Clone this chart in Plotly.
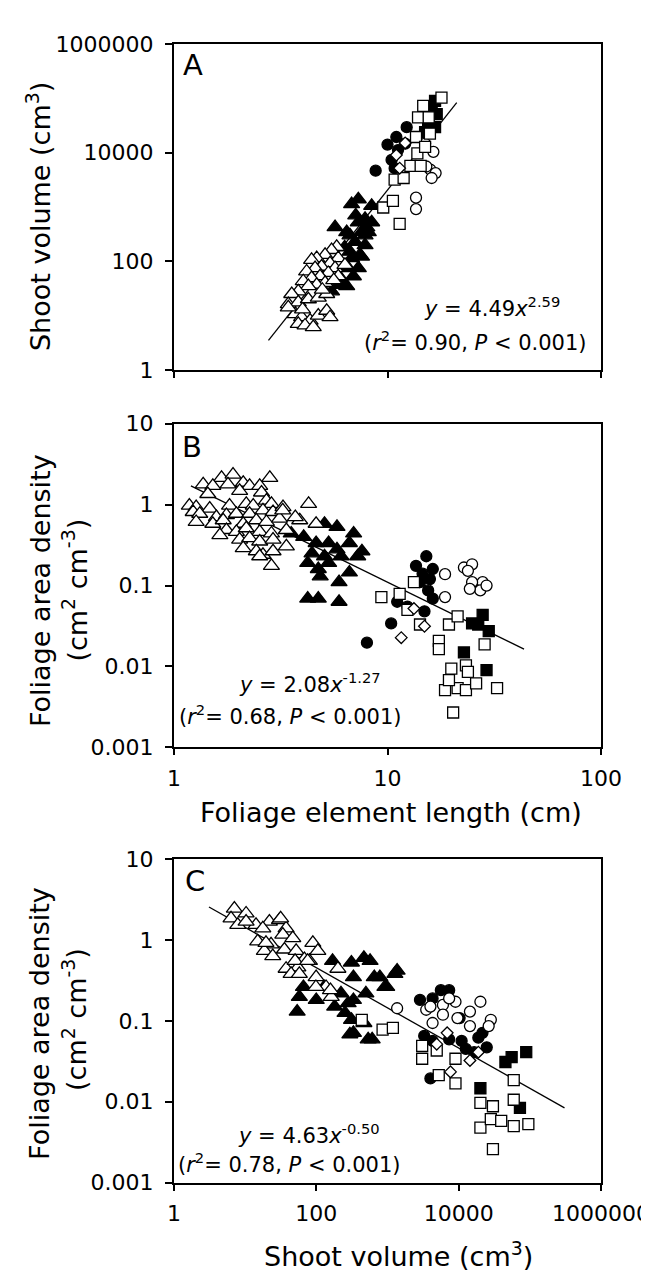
import plotly.graph_objects as go

# ---------------- Panel A: shoot volume vs foliage element length ----------------
a_open_tri_x = [5.78,5.47,5.10,4.66,4.41,5.88,5.38,4.91,4.58,4.18,5.68,5.28,4.83,4.41,4.03,6.32,5.88,5.10,4.66,4.26,3.82,3.56,3.43,3.82,4.26,4.74,5.19,3.69,3.96,4.34,4.74,5.19,5.38,3.82,4.11,4.49,3.43,4.95,5.60,4.00]
a_open_tri_y = [184,161,131,114,106,114,92,80,75,65,75,61,53,49,43,86,53,40,37,35,28,25,16.3,17.5,20,21.5,25,10.7,9.35,8.12,10.0,12.3,9.35,7.08,6.6,6.17,14.2,30,45,13]
a_fill_tri_x = [7.30,6.79,8.43,5.68,6.44,7.30,7.85,7.04,6.67,7.43,7.30,8.13,7.85,8.43,6.67,7.56,7.85,6.79,7.56,6.55,6.10,6.92,5.88,6.44,5.47,7.10,8.00,6.30]
a_fill_tri_y = [1384,1124,1047,424,344,522,300,227,150,131,75,344,601,522,300,344,198,114,122,75,46,53,37,35,28,700,420,180]
a_fill_cir_x = [8.80,10.0,11.0,12.3,10.45,11.2,10.8,12.1]
a_fill_cir_y = [4630,14000,19300,29300,7310,11100,5160,14600]
a_open_dia_x = [12.1,11.0,11.4]
a_open_dia_y = [15000,9000,5160]
a_open_sq_x = [10.8,11.9,12.8,14.3,13.8,13.6,13.9,15.6,14.7,17.9,15.8,9.55,10.6,11.4,15.0]
a_open_sq_y = [3180,3400,5700,5700,9640,19300,44400,44400,72300,102000,22200,975,1290,489,12700]
a_fill_sq_x = [16.7,16.1,15.5,15.0,16.7,17.0]
a_fill_sq_y = [89000,62800,36000,23800,29300,51000]
a_open_cir_x = [16.4,15.0,15.9,16.8,16.1,13.6,13.6,15.2]
a_open_cir_y = [10300,14600,4830,4190,3400,1480,912,5540]
a_fit_x = [2.77,21.1]
a_fit_y = [3.5,83000]

# ---------------- Panel B: foliage area density vs foliage element length ----------------
b_open_tri_x = [1.67,1.89,2.81,1.37,1.52,1.79,2.11,2.26,2.52,1.44,2.03,2.57,1.18,1.27,1.47,1.82,2.18,2.35,2.71,2.86,1.23,1.32,1.58,1.76,1.96,2.26,2.61,2.91,3.24,1.27,1.52,1.70,2.11,2.43,2.71,3.12,3.88,1.76,1.96,2.18,2.52,2.86,3.36,1.64,2.03,2.26,2.52,2.91,3.36,2.11,2.43,2.61,2.91,2.86,2.52,4.27,3.23,4.63,3.70]
b_open_tri_y = [2.14,2.35,2.14,1.78,1.70,1.78,1.86,1.70,1.70,1.35,1.48,1.41,0.97,0.93,0.89,0.97,1.02,0.97,1.12,1.02,0.81,0.77,0.70,0.74,0.77,0.77,0.85,0.81,0.93,0.61,0.58,0.64,0.58,0.64,0.61,0.67,0.64,0.485,0.46,0.51,0.46,0.44,0.485,0.42,0.37,0.385,0.35,0.37,0.305,0.29,0.265,0.24,0.265,0.175,0.23,1.02,0.85,0.58,0.70]
b_fill_tri_x = [3.54,4.05,5.07,5.80,6.94,4.63,5.30,6.63,7.59,4.43,5.80,5.07,6.06,7.25,4.23,4.74,4.84,6.63,5.93,4.23,4.74,5.93,5.30]
b_fill_tri_y = [0.44,0.40,0.58,0.53,0.44,0.335,0.335,0.335,0.265,0.25,0.28,0.23,0.23,0.23,0.19,0.16,0.13,0.145,0.11,0.069,0.069,0.063,0.19]
b_fill_cir_x = [15.2,13.6,16.3,14.2,15.5,11.1,12.4,14.9,16.3,10.4,8.01,14.6,15.8]
b_fill_cir_y = [0.23,0.175,0.16,0.11,0.087,0.063,0.055,0.048,0.069,0.034,0.0197,0.14,0.12]
b_open_cir_x = [22.8,24.9,23.8,27.9,24.9,27.2,24.3,18.6,18.6,29.1]
b_open_cir_y = [0.167,0.183,0.152,0.11,0.11,0.087,0.091,0.138,0.072,0.100]
b_open_sq_x = [9.36,11.4,13.3,12.4,14.2,19.4,21.3,17.4,17.4,28.5,19.9,23.3,23.8,18.6,21.3,23.3,26.0,32.6,20.3,19.4]
b_open_sq_y = [0.072,0.079,0.11,0.050,0.033,0.033,0.0415,0.0207,0.0164,0.0188,0.0094,0.0103,0.0086,0.0051,0.0054,0.0051,0.0062,0.0054,0.0027,0.0068]
b_fill_sq_x = [22.8,29.1,27.9,26.6,29.8,24.9]
b_fill_sq_y = [0.0149,0.0090,0.0434,0.033,0.0273,0.034]
b_open_dia_x = [13.3,14.9,11.6]
b_open_dia_y = [0.052,0.0314,0.0227]
b_fit_x = [1.2,43.6]
b_fit_y = [1.70,0.0164]

# ---------------- Panel C: foliage area density vs shoot volume ----------------
c_open_tri_x = [7.05,10.3,6.33,7.87,14.2,10.3,21.9,30.3,17.7,37.6,15.0,23.1,33.8,46.7,18.6,24.4,35.6,52,89.3,105,37.6,55,68,44.2,99.3,137,162,201,80,158,98.7,57.7,50.3,31.5,19.6,75.5]
c_open_tri_y = [2.43,2.12,1.84,1.53,1.53,1.68,1.68,1.76,1.39,1.39,0.96,0.88,1.16,1.05,0.73,0.63,0.76,0.73,0.92,0.73,0.44,0.457,0.58,0.38,0.346,0.262,0.198,0.44,0.55,0.239,0.262,0.38,0.55,1.84,0.92,0.55]
c_fill_tri_x = [53.8,57.7,65.9,169,311,466,569,1365,975,652,332,222,332,497,253,466,332,609,129,181,99.7,296,535,312,280,919,781,1270]
c_fill_tri_y = [0.130,0.198,0.262,0.55,0.525,0.60,0.55,0.417,0.262,0.346,0.346,0.218,0.181,0.218,0.125,0.094,0.071,0.059,0.262,0.150,0.181,0.068,0.059,0.103,0.165,0.262,0.346,0.38]
c_fill_cir_x = [5620,7350,4300,2860,3280,4300,7350,11000,18900,24800,16500,4010,10300,21600,12600]
c_fill_cir_y = [0.239,0.239,0.189,0.181,0.065,0.0565,0.059,0.0565,0.062,0.047,0.041,0.0194,0.108,0.071,0.045]
c_open_cir_x = [1365,3500,4010,6010,9020,6010,9620,14400,20200,14400,4300,28300,26400,7350]
c_open_cir_y = [0.143,0.137,0.150,0.157,0.172,0.119,0.108,0.130,0.172,0.086,0.094,0.103,0.086,0.189]
c_open_sq_x = [435,853,1190,3070,3070,4920,5250,9020,9020,59400,20200,30300,20200,28300,39600,59400,95300,30300,59400]
c_open_sq_y = [0.103,0.078,0.082,0.049,0.034,0.043,0.0213,0.0169,0.034,0.0185,0.0097,0.0088,0.0048,0.0061,0.0058,0.0050,0.0053,0.0026,0.0106]
c_fill_sq_x = [20200,45400,55500,89000,72600]
c_fill_sq_y = [0.0147,0.031,0.0356,0.041,0.0084]
c_open_dia_x = [4920,7670,14400,18900,6890]
c_open_dia_y = [0.0515,0.0234,0.0324,0.041,0.071]
c_fit_x = [3.1,307000]
c_fit_y = [2.55,0.0084]

# tick labels
len_ticks = [1, 10, 100]
len_ticktext = ["1", "10", "100"]
vol_ticks = [1, 100, 10000, 1000000]
vol_ticktext = ["1", "100", "10000", "1000000"]
dens_ticks = [0.001, 0.01, 0.1, 1, 10]
dens_ticktext = ["0.001", "0.01", "0.1", "1", "10"]

FONT = "DejaVu Sans"
W, H = 649, 1274
ML, MR = 166, 56

fig = go.Figure()

def scat(x, y, xa, ya, symbol, filled, size):
    fig.add_trace(go.Scatter(
        x=x, y=y, xaxis=xa, yaxis=ya, mode="markers", showlegend=False,
        cliponaxis=False,
        marker=dict(symbol=symbol, size=size,
                    color="black" if filled else "white",
                    line=dict(color="black", width=1.3))))

def fit(x, y, xa, ya):
    fig.add_trace(go.Scatter(x=x, y=y, xaxis=xa, yaxis=ya, mode="lines",
                             showlegend=False, line=dict(color="black", width=1.3)))

panels = [
    ("x", "y", dict(
        fit=(a_fit_x, a_fit_y),
        ft=(a_fill_tri_x, a_fill_tri_y), fc=(a_fill_cir_x, a_fill_cir_y),
        fs=(a_fill_sq_x, a_fill_sq_y), ot=(a_open_tri_x, a_open_tri_y),
        oc=(a_open_cir_x, a_open_cir_y), os=(a_open_sq_x, a_open_sq_y),
        od=(a_open_dia_x, a_open_dia_y))),
    ("x2", "y2", dict(
        fit=(b_fit_x, b_fit_y),
        ft=(b_fill_tri_x, b_fill_tri_y), fc=(b_fill_cir_x, b_fill_cir_y),
        fs=(b_fill_sq_x, b_fill_sq_y), ot=(b_open_tri_x, b_open_tri_y),
        oc=(b_open_cir_x, b_open_cir_y), os=(b_open_sq_x, b_open_sq_y),
        od=(b_open_dia_x, b_open_dia_y))),
    ("x3", "y3", dict(
        fit=(c_fit_x, c_fit_y),
        ft=(c_fill_tri_x, c_fill_tri_y), fc=(c_fill_cir_x, c_fill_cir_y),
        fs=(c_fill_sq_x, c_fill_sq_y), ot=(c_open_tri_x, c_open_tri_y),
        oc=(c_open_cir_x, c_open_cir_y), os=(c_open_sq_x, c_open_sq_y),
        od=(c_open_dia_x, c_open_dia_y))),
]

for xa, ya, d in panels:
    fit(*d["fit"], xa, ya)
    scat(*d["ft"], xa, ya, "triangle-up", True, 14)
    scat(*d["fc"], xa, ya, "circle", True, 11)
    scat(*d["fs"], xa, ya, "square", True, 11)
    scat(*d["ot"], xa, ya, "triangle-up", False, 14)
    scat(*d["oc"], xa, ya, "circle", False, 11)
    scat(*d["os"], xa, ya, "square", False, 11)
    scat(*d["od"], xa, ya, "diamond", False, 9)

def py2paper(py):
    return (H - py) / H

def px2paper(px):
    return (px - ML) / (W - ML - MR)

axis_common = dict(type="log", showgrid=False, zeroline=False, showline=True,
                   linecolor="black", linewidth=2, mirror=True, ticks="outside",
                   tickcolor="black", tickwidth=1.5,
                   tickfont=dict(family=FONT, size=22, color="black"))

fig.update_layout(
    width=W, height=H, margin=dict(l=ML, r=MR, t=0, b=0),
    paper_bgcolor="white", plot_bgcolor="white",
    font=dict(family=FONT, color="black"),
    xaxis=dict(axis_common, range=[0, 2], domain=[0, 1], anchor="y",
               tickvals=len_ticks, showticklabels=False, ticklen=6),
    yaxis=dict(axis_common, range=[0, 6], anchor="x",
               domain=[py2paper(357), py2paper(24.3)],
               tickvals=vol_ticks, ticktext=vol_ticktext, ticklen=7,
               ticklabelstandoff=7),
    xaxis2=dict(axis_common, range=[0, 2], domain=[0, 1], anchor="y2",
                tickvals=len_ticks, ticktext=len_ticktext, ticklen=6,
                ticklabelstandoff=4),
    yaxis2=dict(axis_common, range=[-3, 1], anchor="x2",
                domain=[py2paper(742), py2paper(411.7)],
                tickvals=dens_ticks, ticktext=dens_ticktext, ticklen=7,
                ticklabelstandoff=7),
    xaxis3=dict(axis_common, range=[0, 6], domain=[0, 1], anchor="y3",
                tickvals=vol_ticks, ticktext=vol_ticktext, ticklen=6,
                ticklabelstandoff=4),
    yaxis3=dict(axis_common, range=[-3, 1], anchor="x3",
                domain=[py2paper(1186), py2paper(855.7)],
                tickvals=dens_ticks, ticktext=dens_ticktext, ticklen=7,
                ticklabelstandoff=7),
)

def ann(text, px, py, size, angle=0, xanchor="center"):
    fig.add_annotation(text=text, x=px2paper(px), y=py2paper(py), xref="paper",
                       yref="paper", showarrow=False, textangle=angle,
                       xanchor=xanchor, yanchor="middle",
                       font=dict(family=FONT, size=size, color="black"))

# axis titles
ann("Shoot volume (cm<sup>3</sup>)", 30, 201, 27, -90)
ann("Foliage area density", 32, 582.5, 27, -90)
ann("(cm<sup>2</sup> cm<sup>-3</sup>)", 67, 582, 27, -90)
ann("Foliage element length (cm)", 382.5, 808, 27)
ann("Foliage area density", 32, 1024, 27, -90)
ann("(cm<sup>2</sup> cm<sup>-3</sup>)", 67, 1020, 27, -90)
ann("Shoot volume (cm<sup>3</sup>)", 390, 1259, 27)

# panel letters
ann("A", 185, 46, 29)
ann("B", 184, 436, 29)
ann("C", 187, 878, 29)

# regression equations
ann("<i>y</i> = 4.49<i>x</i><sup>2.59</sup>", 483.5, 292.5, 21)
ann("(<i>r</i><sup>2</sup>= 0.90, <i>P</i> &lt; 0.001)", 467, 327, 21)
ann("<i>y</i> = 2.08<i>x</i><sup>-1.27</sup>", 301.5, 676, 21)
ann("(<i>r</i><sup>2</sup>= 0.68, <i>P</i> &lt; 0.001)", 282.5, 709, 21)
ann("<i>y</i> = 4.63<i>x</i><sup>-0.50</sup>", 300.5, 1136, 21)
ann("(<i>r</i><sup>2</sup>= 0.78, <i>P</i> &lt; 0.001)", 281.5, 1166, 21)

fig.write_html("out.html")
